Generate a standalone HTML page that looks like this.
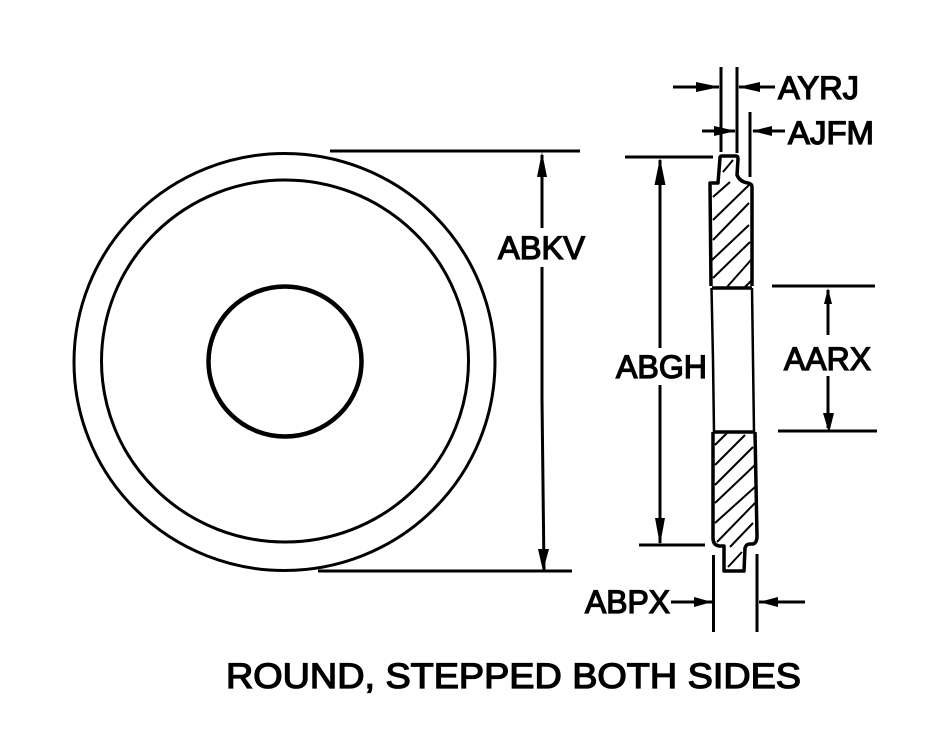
<!DOCTYPE html>
<html><head><meta charset="utf-8"><style>
html,body{margin:0;padding:0;background:#fff}
svg{display:block}
text{font-family:"Liberation Sans",sans-serif;font-weight:normal;fill:#000;stroke:#000;stroke-width:1.3px}
</style></head><body>
<svg width="948" height="753" viewBox="0 0 948 753" xmlns="http://www.w3.org/2000/svg">
<rect width="948" height="753" fill="#fff"/>
<g fill="none" stroke="#000">
<ellipse cx="284.5" cy="362" rx="210.5" ry="208.5" stroke-width="3"/>
<ellipse cx="285" cy="361" rx="183.5" ry="181" stroke-width="3"/>
<ellipse cx="285" cy="361.5" rx="76.5" ry="75" stroke-width="4.5"/>
<g stroke-width="3">
<path d="M330 151H580M318 571H572"/>
<path d="M542 155V228M542 267V400L544 570"/>
<path d="M625 157H713M639 545H705"/>
<path d="M660 160V348M660 385V543"/>
<path d="M772 286H875M778 431H877"/>
<path d="M828 290V335M828 376V428"/>
<path d="M721 67V152M737 67V153M750 112V177"/>
<path d="M673 87H719M739 87H775"/>
<path d="M702 131H735M753 131H785"/>
<path d="M713.5 555V632M757 554V632"/>
<path d="M671 602H712M759 602H805"/>
</g>
<!-- section outline -->
<g stroke-width="3.5" stroke-linejoin="round">
<path d="M711 286L710 183H718L720 158Q720 156 722 156H736Q738 156 738 159L737 175Q740 182 748 183Q752 184 752 187L752 286"/>
<path d="M712 288H752M714 432H755"/>
<path d="M713 432L713 538Q713 545 719 546H724V571H744L745 548Q746 544 750 544H753Q757 543 757 536L755 432"/>
</g>
<g stroke-width="2.5">
<path d="M711.5 288L713 360L714 432M752 288L754 432"/>
</g>
<!-- hatching -->
<g stroke-width="2">
<path d="M723 172L733 160"/>
<path d="M713 197L730 182"/>
<path d="M713 220L749 185"/>
<path d="M713 240L749 203"/>
<path d="M712 260L749 225"/>
<path d="M713 278L750 242"/>
<path d="M727 287L751 260"/>
<path d="M745 287L752 280"/>
<path d="M715 445L727 433"/>
<path d="M715 465L745 435"/>
<path d="M715 485L753 447"/>
<path d="M715 503L755 465"/>
<path d="M715 523L755 487"/>
<path d="M717 542L755 503"/>
<path d="M730 547L753 523"/>
<path d="M728 567L742 552"/>
</g>
</g>
<!-- arrowheads -->
<g fill="#000">
<path d="M542 152L547 177H537Z"/>
<path d="M543 571L549 549H538Z"/>
<path d="M660 158L665.5 185H654.5Z"/>
<path d="M660 545L665 518H655Z"/>
<path d="M828 288L832 304H824Z"/>
<path d="M829 433L834 413H823Z"/>
<path d="M720 87L696 82V92Z"/>
<path d="M738 87L760 82V92Z"/>
<path d="M736 131L714 126V136Z"/>
<path d="M752 131L772 126V136Z"/>
<path d="M712 602L694 597V607Z"/>
<path d="M759 602L778 597V607Z"/>
</g>
<g font-size="32">
<text x="498" y="259" textLength="87" lengthAdjust="spacingAndGlyphs">ABKV</text>
<text x="616" y="378" textLength="91" lengthAdjust="spacingAndGlyphs">ABGH</text>
<text x="784" y="370" textLength="87" lengthAdjust="spacingAndGlyphs">AARX</text>
<text x="778" y="99" textLength="81" lengthAdjust="spacingAndGlyphs">AYRJ</text>
<text x="788" y="144" textLength="86" lengthAdjust="spacingAndGlyphs">AJFM</text>
<text x="585" y="613" textLength="85" lengthAdjust="spacingAndGlyphs">ABPX</text>
</g>
<text x="226" y="688" font-size="35" textLength="575" lengthAdjust="spacingAndGlyphs">ROUND, STEPPED BOTH SIDES</text>
</svg>
</body></html>
